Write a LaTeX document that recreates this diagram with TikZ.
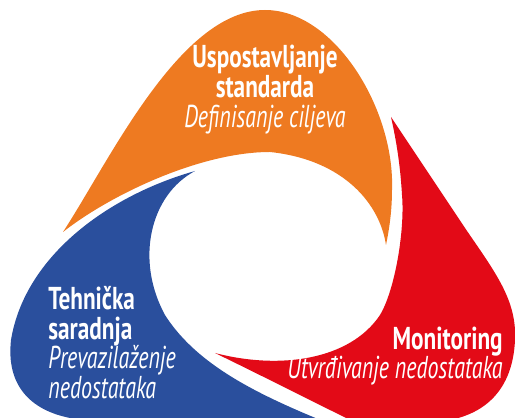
\documentclass[tikz,border=0pt]{standalone}
\usepackage{fontspec}
\newfontfamily\headfont{PT Sans}[FakeStretch=0.735]
\newfontfamily\subfont{PT Sans}[FakeStretch=0.695]
\definecolor{cOrange}{HTML}{EE7A21}
\definecolor{cRed}{HTML}{E30A17}
\definecolor{cBlue}{HTML}{2A4F9D}
\begin{document}
\begin{tikzpicture}[x=0.02cm,y=-0.02cm,
  head/.style={font=\headfont\bfseries\fontsize{18}{21}\selectfont,text=white,inner sep=0pt},
  sub/.style={font=\subfont\itshape\fontsize{18}{21}\selectfont,text=white,inner sep=0pt}]
\useasboundingbox (0,0) rectangle (515,418);
\clip (0,0) rectangle (515,418);
% orange
\fill[cOrange] (63,232) .. controls (110,160) and (180,10) .. (265,10)
  .. controls (335,10) and (395,110) .. (392,190)
  .. controls (392,215) and (388,235) .. (386,245)
  .. controls (380,205) and (345,160) .. (270,152)
  .. controls (200,152) and (110,195) .. (63,232) -- cycle;
% blue
\fill[cBlue] (195,171) .. controls (110,195) and (25,255) .. (11,340)
  .. controls (6,385) and (30,410) .. (70,418)
  -- (70,430) -- (345,430)
  .. controls (270,400) and (200,370) .. (165,315)
  .. controls (135,260) and (150,195) .. (195,171) -- cycle;
% red
\fill[cRed] (391,117) -- (465,228)
  .. controls (495,272) and (517,300) .. (515,340)
  .. controls (513,385) and (490,412) .. (450,420)
  -- (450,430) -- (370,430)
  .. controls (310,400) and (250,370) .. (215,353)
  .. controls (280,370) and (350,360) .. (380,315)
  .. controls (395,290) and (405,230) .. (402,195)
  .. controls (400,160) and (395,135) .. (391,117) -- cycle;
% texts
\node[head,anchor=base] (t1) at (265,68) {Uspostavljanje};
\node[head,anchor=base] (t2) at (265,98) {standarda};
\node[sub,anchor=base] (t3) at (265,128) {Definisanje ciljeva};
\node[head,anchor=base west] (b1) at (48,310) {Tehnička};
\node[head,anchor=base west] (b2) at (48,340) {saradnja};
\node[sub,anchor=base west] (b3) at (48,369) {Prevazilaženje};
\node[sub,anchor=base west] (b4) at (48,399) {nedostataka};
\node[head,anchor=base east] (r1) at (503,350) {Monitoring};
\node[sub,anchor=base east] (r2) at (503,379) {Utvrđivanje nedostataka};
\end{tikzpicture}
\end{document}
